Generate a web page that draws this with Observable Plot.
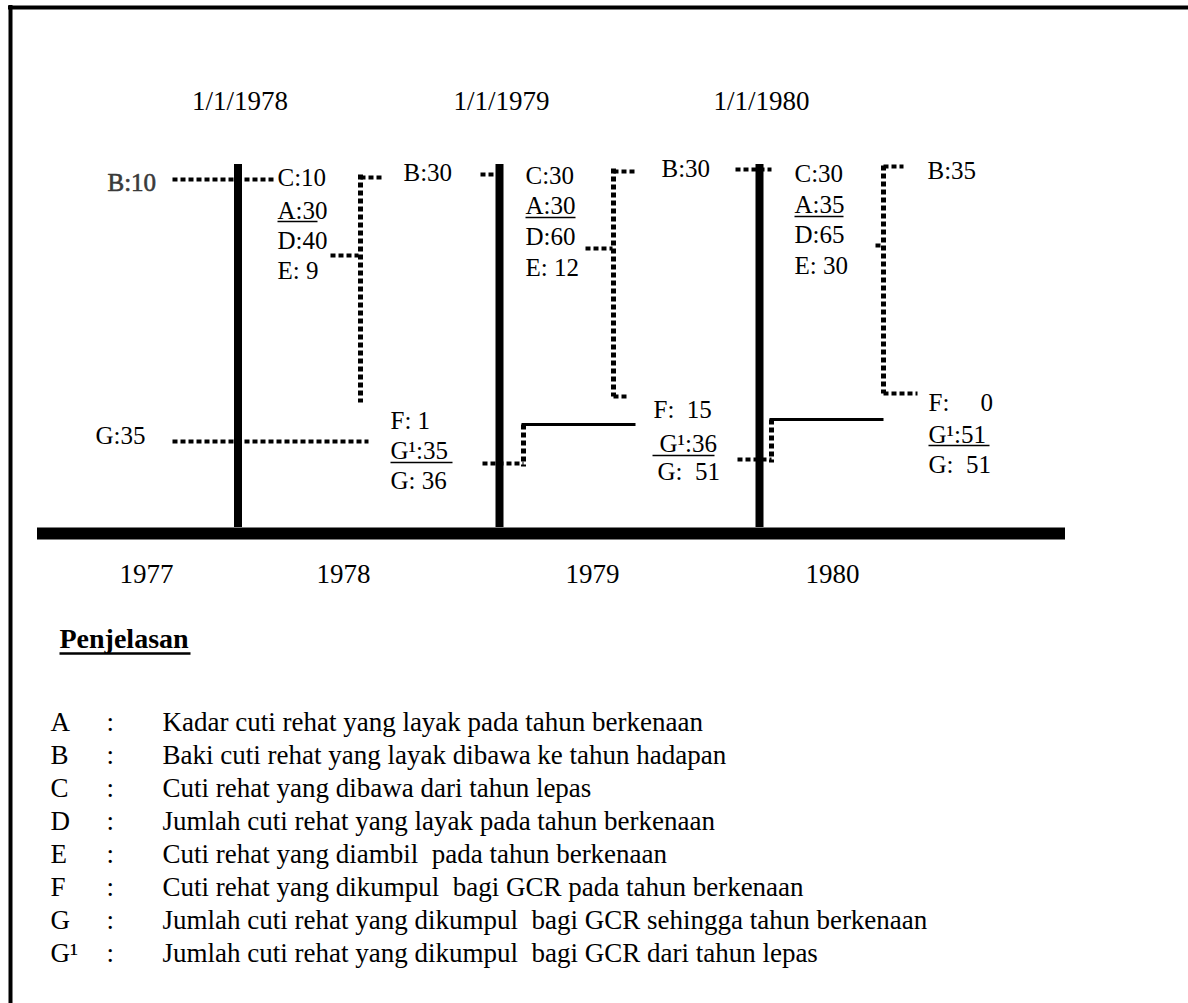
<!DOCTYPE html>
<html><head><meta charset="utf-8">
<script src="https://cdn.jsdelivr.net/npm/d3@7"></script>
<script src="https://cdn.jsdelivr.net/npm/@observablehq/plot@0.6"></script>
<style>body{margin:0;background:#fff} svg{display:block}</style>
</head><body><div id="chart"></div>
<script>
// ---------------- DATA ----------------
const years = [1977, 1978, 1979, 1980];
const dateLabels = ["1/1/1978", "1/1/1979", "1/1/1980"];
const B = [10, 30, 30, 35];      // baki dibawa ke tahun hadapan (1977..1980)
const C = [10, 30, 30];          // dibawa dari tahun lepas (1978..1980)
const A = [30, 30, 35];          // kadar cuti
const D = [40, 60, 65];          // jumlah layak
const E = [9, 12, 30];           // diambil
const F = [1, 15, 0];            // dikumpul GCR
const G1 = [35, 36, 51];         // GCR dari tahun lepas
const G = [35, 36, 51, 51];      // jumlah GCR (1977..1980)
const legendTitle = "Penjelasan";
const legendKeys = ["A", "B", "C", "D", "E", "F", "G", "G\u00B9"];
const legendTexts = [
  "Kadar cuti rehat yang layak pada tahun berkenaan",
  "Baki cuti rehat yang layak dibawa ke tahun hadapan",
  "Cuti rehat yang dibawa dari tahun lepas",
  "Jumlah cuti rehat yang layak pada tahun berkenaan",
  "Cuti rehat yang diambil  pada tahun berkenaan",
  "Cuti rehat yang dikumpul  bagi GCR pada tahun berkenaan",
  "Jumlah cuti rehat yang dikumpul  bagi GCR sehingga tahun berkenaan",
  "Jumlah cuti rehat yang dikumpul  bagi GCR dari tahun lepas"
];

// ---------------- LAYOUT ----------------
const W = 1188, H = 1003;
const NB = "\u00A0";
const boundaryX = [237.5, 499, 759];
const lineTop = 164, baseY = 533;
const yearX = [146, 343, 592, 832];
// per column positions (column i = year years[i+1])
const cols = [
  {cx: 277, cy: [185, 218, 248, 278], ul: [277, 317, 221],
   bPrev: {x: 107, y: 190}, dotTop: {y: 179, x1: 172, x2: 275},
   dShort: {y: 255, x1: 330, x2: 358}, vx: 360, vy1: 174, vy2: 402,
   topDot: {y: 177, x2: 383}, bNext: {x: 403, y: 180},
   fx: [390, 390, 390], fy: [428, 458, 488], ful: [390, 452, 462]},
  {cx: 525, cy: [183, 213, 244, 275], ul: [525, 575, 217],
   dotTop: {y: 174, x1: 480, x2: 497},
   dShort: {y: 248, x1: 585, x2: 612}, vx: 613, vy1: 168, vy2: 396,
   topDot: {y: 171, x2: 637}, bNext: {x: 661, y: 176},
   botDot: {y: 396, x2: 628},
   gIn: {y: 463, x1: 482, vx: 523, vy: 424, x2: 635},
   fx: [653, 659, 657], fy: [417, 451, 479], ful: [652, 714, 455]},
  {cx: 794, cy: [181, 212, 242, 273], ul: [794, 843, 216],
   dotTop: {y: 169, x1: 735, x2: 771},
   dShort: {y: 245, x1: 875, x2: 883}, vx: 883, vy1: 165, vy2: 393,
   topDot: {y: 166, x2: 903}, bNext: {x: 927, y: 178},
   botDot: {y: 393, x2: 917},
   gIn: {y: 459, x1: 737, vx: 771, vy: 419, x2: 883},
   fx: [928, 928, 928], fy: [410, 442, 472], ful: [928, 989, 445]}
];
const g0 = {x: 95, y: 443, dotY: 441, x1: 172, x2: 368};

// ---------------- BUILD ----------------
const labels = [];   // regular diagram labels
const dots = [];     // dotted segments
const solids = [];   // solid thin segments
const unders = [];   // underlines
const vdots = [];    // vertical dotted segments

labels.push({x: g0.x, y: g0.y, t: `G:${G[0]}`});
dots.push({x1: g0.x1, y1: g0.dotY, x2: g0.x2, y2: g0.dotY});

cols.forEach((c, i) => {
  const lab = [`C:${C[i]}`, `A:${A[i]}`, `D:${D[i]}`, `E:${NB}${E[i]}`];
  lab.forEach((t, k) => labels.push({x: c.cx, y: c.cy[k], t}));
  unders.push({x1: c.ul[0], x2: c.ul[1], y: c.ul[2]});
  dots.push({x1: c.dotTop.x1, y1: c.dotTop.y, x2: c.dotTop.x2, y2: c.dotTop.y});
  dots.push({x1: c.dShort.x1, y1: c.dShort.y, x2: c.dShort.x2, y2: c.dShort.y});
  vdots.push({x1: c.vx, y1: c.vy1, x2: c.vx, y2: c.vy2});
  dots.push({x1: c.vx, y1: c.topDot.y, x2: c.topDot.x2, y2: c.topDot.y});
  labels.push({x: c.bNext.x, y: c.bNext.y, t: `B:${B[i + 1]}`});
  if (c.botDot) dots.push({x1: c.vx, y1: c.botDot.y, x2: c.botDot.x2, y2: c.botDot.y});
  if (c.gIn) {
    dots.push({x1: c.gIn.x1, y1: c.gIn.y, x2: c.gIn.vx, y2: c.gIn.y});
    vdots.push({x1: c.gIn.vx, y1: c.gIn.vy, x2: c.gIn.vx, y2: c.gIn.y + 3});
    solids.push({x1: c.gIn.vx - 2, y1: c.gIn.vy, x2: c.gIn.x2, y2: c.gIn.vy});
  }
  const fsp = i === 0 ? " " : i === 1 ? NB + NB : NB + NB + NB + NB + NB;
  const gsp = i === 0 ? NB : NB + NB;
  const flab = [`F:${fsp}${F[i]}`, `G\u00B9:${G1[i]}`, `G:${gsp}${G[i + 1]}`];
  flab.forEach((t, k) => labels.push({x: c.fx[k], y: c.fy[k], t}));
  unders.push({x1: c.ful[0], x2: c.ful[1], y: c.ful[2]});
});

const bPrev = [{x: cols[0].bPrev.x, y: cols[0].bPrev.y, t: `B:${B[0]}`}];

const yearRows = years.map((yr, i) => ({x: yearX[i], y: 582, t: String(yr)}));
const dateRows = dateLabels.map((d, i) => ({x: boundaryX[i] + 2, y: 109, t: d}));
const boundaries = boundaryX.map(x => ({x, y1: lineTop, y2: baseY - 6}));

const legRows = legendKeys.map((k, i) => ({k, t: legendTexts[i], y: 730 + i * 33}));

const font = "'Liberation Serif','Times New Roman',serif";

const chart = Plot.plot({
  width: W, height: H, margin: 0,
  x: {domain: [0, W], range: [0, W], axis: null},
  y: {domain: [0, H], range: [0, H], axis: null},
  style: {background: "white", fontFamily: font, color: "black"},
  marks: [
    // frame (top and left edges)
    Plot.ruleY([{y: 7}], {y: "y", x1: () => 8, x2: () => W, stroke: "black", strokeWidth: 4}),
    Plot.ruleX([{x: 10}], {x: "x", y1: () => 5, y2: () => H, stroke: "black", strokeWidth: 4}),
    // year boundaries
    Plot.ruleX(boundaries, {x: "x", y1: "y1", y2: "y2", stroke: "black", strokeWidth: 8}),
    // time axis
    Plot.ruleY([{y: baseY}], {y: "y", x1: () => 37, x2: () => 1065, stroke: "black", strokeWidth: 12}),
    // connectors
    Plot.link(dots, {x1: "x1", y1: "y1", x2: "x2", y2: "y2", stroke: "black", strokeWidth: 4, strokeDasharray: "5,3"}),
    Plot.link(vdots, {x1: "x1", y1: "y1", x2: "x2", y2: "y2", stroke: "black", strokeWidth: 5, strokeDasharray: "5,3"}),
    Plot.link(solids, {x1: "x1", y1: "y1", x2: "x2", y2: "y2", stroke: "black", strokeWidth: 3}),
    Plot.link(unders, {x1: "x1", y1: "y", x2: "x2", y2: "y", stroke: "black", strokeWidth: 1.6}),
    // labels
    Plot.text(dateRows, {x: "x", y: "y", text: "t", fontSize: 27, lineAnchor: "bottom", textAnchor: "middle", fill: "black"}),
    Plot.text(yearRows, {x: "x", y: "y", text: "t", fontSize: 27, lineAnchor: "bottom", textAnchor: "middle", fill: "black"}),
    Plot.text(labels, {x: "x", y: "y", text: "t", fontSize: 25, lineAnchor: "bottom", textAnchor: "start", fill: "black"}),
    Plot.text(bPrev, {x: "x", y: "y", text: "t", fontSize: 25, lineAnchor: "bottom", textAnchor: "start", fill: "#3a3a3a", stroke: "#3a3a3a", strokeWidth: 0.6}),
    // legend
    Plot.text([{x: 59, y: 647, t: legendTitle}], {x: "x", y: "y", text: "t", fontSize: 28, fontWeight: "bold", lineAnchor: "bottom", textAnchor: "start", fill: "black"}),
    Plot.link([{x1: 59, x2: 190, y: 653}], {x1: "x1", y1: "y", x2: "x2", y2: "y", stroke: "black", strokeWidth: 2.5}),
    Plot.text(legRows, {x: () => 50, y: "y", text: "k", fontSize: 27, lineAnchor: "bottom", textAnchor: "start", fill: "black"}),
    Plot.text(legRows, {x: () => 106, y: "y", text: () => ":", fontSize: 27, lineAnchor: "bottom", textAnchor: "start", fill: "black"}),
    Plot.text(legRows, {x: () => 162, y: "y", text: "t", fontSize: 27, lineAnchor: "bottom", textAnchor: "start", fill: "black"})
  ]
});
document.getElementById("chart").appendChild(chart);
</script>
</body></html>
